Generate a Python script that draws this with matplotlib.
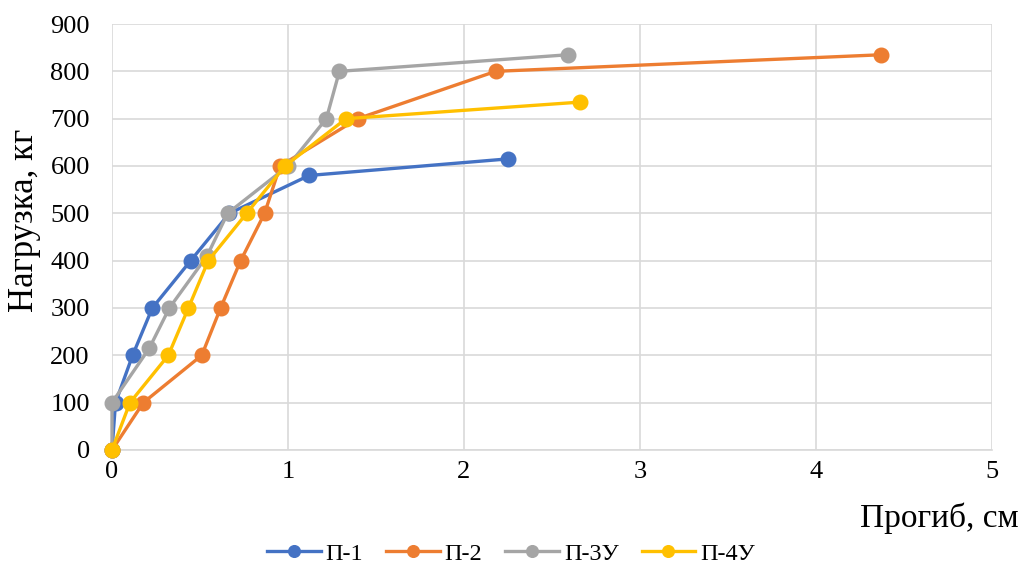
import matplotlib.pyplot as plt

plt.rcParams['font.family'] = ['Liberation Serif', 'DejaVu Serif']

# прогиб, см / нагрузка, кг
p1_x = [0, 0.02, 0.117, 0.229, 0.447, 0.667, 1.12, 2.25]
p1_y = [0, 100, 200, 300, 400, 500, 580, 615]

p2_x = [0, 0.178, 0.51, 0.617, 0.731, 0.867, 0.955, 1.396, 2.18, 4.37]
p2_y = [0, 100, 200, 300, 400, 500, 600, 700, 800, 835]

p3_x = [0, 0, 0.212, 0.326, 0.54, 0.657, 1.0, 1.218, 1.292, 2.589]
p3_y = [0, 100, 215, 300, 410, 500, 600, 700, 800, 835]

p4_x = [0, 0.102, 0.32, 0.434, 0.547, 0.765, 0.983, 1.33, 2.66]
p4_y = [0, 100, 200, 300, 400, 500, 600, 700, 735]

series = [
    ("П-1", p1_x, p1_y, "#4472C4"),
    ("П-2", p2_x, p2_y, "#ED7D31"),
    ("П-3У", p3_x, p3_y, "#A5A5A5"),
    ("П-4У", p4_x, p4_y, "#FFC000"),
]

fig = plt.figure(figsize=(10.22, 5.73), dpi=100)
ax = fig.add_axes([0.1096, 0.2147, 0.861, 0.7434])

for name, xs, ys, col in series:
    ax.plot(xs, ys, color=col, linewidth=2.4, marker='o', markersize=10.5,
            label=name, clip_on=False, zorder=3)

ax.set_xlim(0, 5)
ax.set_ylim(0, 900)
ax.set_xticks(range(0, 6))
ax.set_yticks(range(0, 901, 100))
ax.grid(True, color='#d9d9d9', linewidth=1.2, zorder=0)
ax.set_axisbelow(True)
for s in ['top', 'right', 'left']:
    ax.spines[s].set_visible(False)
ax.spines['bottom'].set_color('#d9d9d9')
ax.spines['bottom'].set_linewidth(1.2)
ax.tick_params(length=0, labelsize=19)
ax.tick_params(axis='x', pad=8)
ax.tick_params(axis='y', pad=16)

fig.text(0.024, 0.616, "Нагрузка, кг", fontsize=25, rotation=90,
         ha='center', va='center')
fig.text(0.997, 0.096, "Прогиб, см", fontsize=24, ha='right', va='center')

fig.legend(loc='center', bbox_to_anchor=(0.5, 0.034), ncol=4, frameon=False,
           fontsize=17.5, handlelength=2.2, columnspacing=0.95, handletextpad=0.2,
           markerscale=0.8)

fig.savefig("out.png", dpi=100)
